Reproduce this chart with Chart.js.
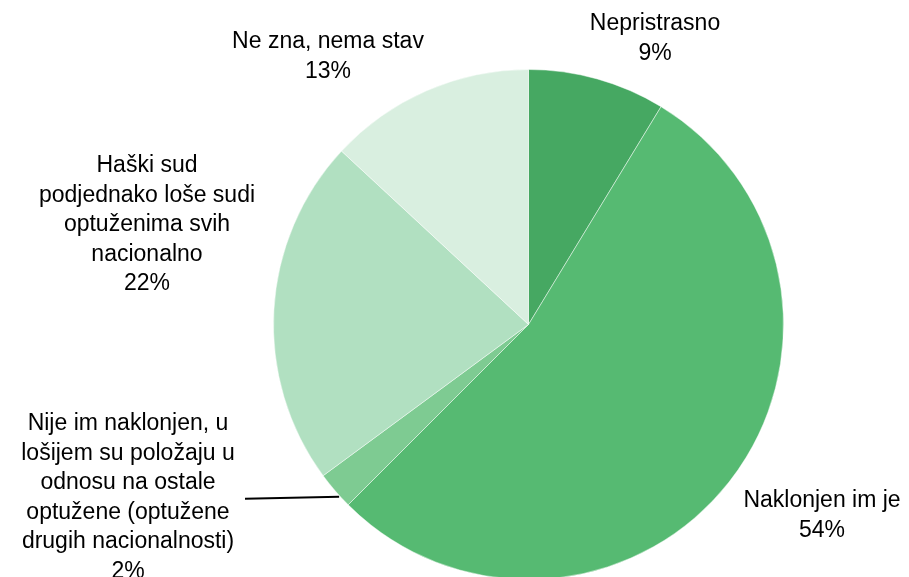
<!DOCTYPE html>
<html>
<head>
<meta charset="utf-8">
<script src="https://cdn.jsdelivr.net/npm/chart.js@4/dist/chart.umd.min.js"></script>
<style>
    html, body { margin: 0; padding: 0; background: #fff; overflow: hidden; }
    #wrap { width: 909px; height: 600px; }
</style>
</head>
<body>
<div id="wrap"><canvas id="pieChart" width="909" height="600"></canvas></div>
<script>
// Answers, clockwise from 12 o'clock
const labels = [
    ['Nepristrasno'],
    ['Naklonjen im je'],
    ['Nije im naklonjen, u', 'lošijem su položaju u', 'odnosu na ostale', 'optužene (optužene', 'drugih nacionalnosti)'],
    ['Haški sud', 'podjednako loše sudi', 'optuženima svih', 'nacionalno'],
    ['Ne zna, nema stav']
];
const values = [8.7, 53.8, 2.4, 22.0, 13.1];
const colors = ['#46a862', '#56ba72', '#7ecb92', '#b1e0c1', '#d9efe0'];

// where each label block sits (centre x, first baseline y)
const labelAnchors = [
    { x: 655, y: 30 },
    { x: 822, y: 507 },
    { x: 128, y: 430 },
    { x: 147, y: 172 },
    { x: 328, y: 48 }
];

const lineHeight = 29.5;

const pieLabels = {
    id: 'pieLabels',
    afterDraw(chart) {
        const ctx = chart.ctx;
        const meta = chart.getDatasetMeta(0);
        ctx.save();
        ctx.font = '23px "Liberation Sans", Arial, sans-serif';
        ctx.fillStyle = '#000';
        ctx.textAlign = 'center';
        ctx.textBaseline = 'alphabetic';

        labels.forEach((lines, i) => {
            const a = labelAnchors[i];
            const all = lines.concat([Math.round(values[i]) + '%']);
            all.forEach((txt, j) => {
                ctx.fillText(txt, a.x, a.y + j * lineHeight);
            });
        });

        // leader line for the small slice
        const arc = meta.data[2];
        const mid = (arc.startAngle + arc.endAngle) / 2;
        const ex = arc.x + Math.cos(mid) * arc.outerRadius;
        const ey = arc.y + Math.sin(mid) * arc.outerRadius;
        ctx.strokeStyle = '#000';
        ctx.lineWidth = 2;
        ctx.beginPath();
        ctx.moveTo(245, ey + 8);
        ctx.lineTo(ex + 4, ey + 6);
        ctx.stroke();
        ctx.restore();
    }
};

new Chart(document.getElementById('pieChart').getContext('2d'), {
    type: 'pie',
    data: {
        labels: labels.map(l => l.join(' ')),
        datasets: [{
            data: values,
            backgroundColor: colors,
            borderColor: 'rgba(255,255,255,0.45)',
            borderWidth: 1
        }]
    },
    options: {
        responsive: false,
        animation: false,
        layout: {
            padding: { left: 273, right: 125, top: 69, bottom: 20 }
        },
        plugins: {
            legend: { display: false },
            tooltip: { enabled: false }
        }
    },
    plugins: [pieLabels]
});
</script>
</body>
</html>
